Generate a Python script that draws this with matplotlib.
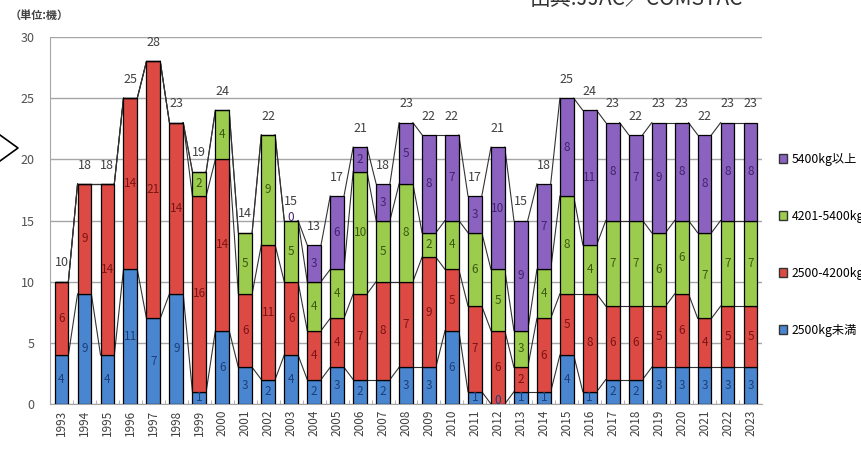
import numpy as np
import matplotlib
matplotlib.use('Agg')
import matplotlib.pyplot as plt
from matplotlib.patches import Patch

plt.rcParams['font.family'] = ['Noto Sans CJK JP', 'DejaVu Sans']

# データ (単位: 機)
years = list(range(1993, 2024))
nan = np.nan
under_2500 = [4, 9, 4, 11, 7, 9, 1, 6, 3, 2, 4, 2, 3, 2, 2, 3, 3, 6, 1, 0, 1, 1, 4, 1, 2, 2, 3, 3, 3, 3, 3]
kg_2500_4200 = [6, 9, 14, 14, 21, 14, 16, 14, 6, 11, 6, 4, 4, 7, 8, 7, 9, 5, 7, 6, 2, 6, 5, 8, 6, 6, 5, 6, 4, 5, 5]
kg_4201_5400 = [nan, nan, nan, nan, nan, nan, 2, 4, 5, 9, 5, 4, 4, 10, 5, 8, 2, 4, 6, 5, 3, 4, 8, 4, 7, 7, 6, 6, 7, 7, 7]
over_5400 = [nan] * 10 + [0, 3, 6, 2, 3, 5, 8, 7, 3, 10, 9, 7, 8, 11, 8, 7, 9, 8, 8, 8, 8]

series = [
    ('2500kg未満', under_2500, '#4a86d0', '#1c3f7a'),
    ('2500-4200kg', kg_2500_4200, '#dd4a44', '#7a1414'),
    ('4201-5400kg', kg_4201_5400, '#9ccc4e', '#3c5a12'),
    ('5400kg以上', over_5400, '#8b62c0', '#43246e'),
]

fig = plt.figure(figsize=(8.62, 4.49), dpi=100)
ax = fig.add_axes([50 / 862, 1 - 404 / 449, 712 / 862, 367 / 449])

x = np.arange(len(years))
width = 0.6
bottom = np.zeros(len(years))
tops = []
for name, vals, color, tcolor in series:
    v = np.array(vals, dtype=float)
    h = np.nan_to_num(v)
    ax.bar(x, h, width, bottom=bottom, color=color, edgecolor='black',
           linewidth=0.9, label=name, zorder=3)
    for i in range(len(years)):
        if not np.isnan(v[i]):
            if v[i] == 0 and name not in ('5400kg以上', '2500kg未満'):
                continue
            ypos = bottom[i] + h[i] / 2 if h[i] > 0 else bottom[i] + 0.25
            ax.text(x[i], ypos, f'{int(v[i])}', ha='center', va='center',
                    fontsize=8.5, color=tcolor, zorder=5)
    bottom = bottom + h
    tops.append(bottom.copy())

# 系列線
for lvl in tops:
    for i in range(len(years) - 1):
        ax.plot([x[i] + width / 2, x[i + 1] - width / 2], [lvl[i], lvl[i + 1]],
                color='#333333', linewidth=0.8, zorder=2)

# 合計ラベル
for i, t in enumerate(bottom):
    ax.annotate(f'{int(t)}', (x[i], t), xytext=(0, 13.5), textcoords='offset points',
                ha='center', va='center', fontsize=9, color='#404040')

ax.set_xlim(-0.5, len(years) - 0.5)
ax.set_ylim(0, 30)
ax.set_yticks(range(0, 31, 5))
ax.yaxis.grid(True, color='#a6a6a6', linewidth=1.0, zorder=0)
ax.set_axisbelow(True)
ax.set_xticks(x)
ax.set_xticklabels([str(y) for y in years], rotation=90, fontsize=8.5, color='#404040')
ax.set_xticks(x[:-1] + 0.5, minor=True)
ax.tick_params(axis='x', which='major', length=0, pad=4)
ax.tick_params(axis='x', which='minor', length=3, direction='in', color='#a6a6a6')
ax.tick_params(axis='y', length=0, labelsize=9, labelcolor='#505050', pad=11)
for s in ['top', 'right']:
    ax.spines[s].set_visible(False)
ax.spines['left'].set_color('#a6a6a6')
ax.spines['bottom'].set_color('#a6a6a6')

# 凡例
handles = [Patch(facecolor=c, edgecolor='#333333', label=n) for n, _, c, _ in series][::-1]
fig.legend(handles=handles, loc='upper left', bbox_to_anchor=(774 / 862, 1 - 148 / 449),
           frameon=False, fontsize=8.8, handlelength=0.7, handleheight=0.7,
           handletextpad=0.35, labelspacing=3.6, borderaxespad=0)

fig.text(10 / 862, 1 - 15 / 449, '（単位:機）', fontsize=8, fontweight='bold',
         color='#404040', va='center')
fig.text(530 / 862, 1 + 1 / 449, '出典:JJAC／COMSTAC', fontsize=15, color='#333333',
         va='center')

# 左端の矢印
fig.add_artist(plt.Line2D([0, 18 / 862, 0], [1 - 135 / 449, 1 - 148 / 449, 1 - 161 / 449],
                          color='black', linewidth=1.2, transform=fig.transFigure))

fig.savefig('out.png', dpi=100)
